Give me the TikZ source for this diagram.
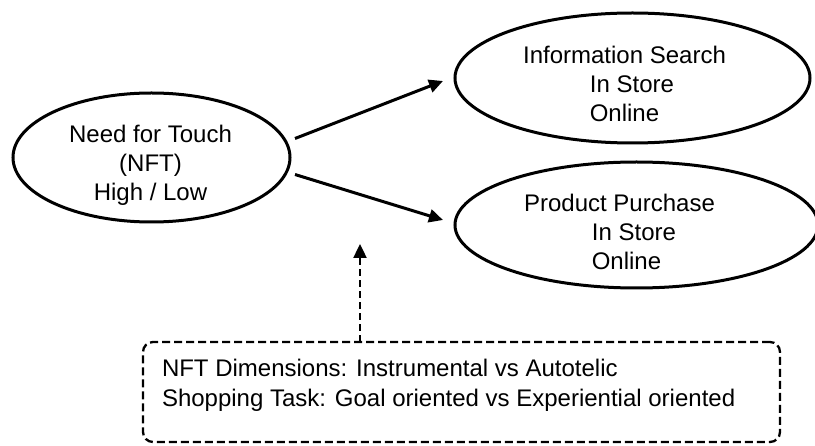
\documentclass[tikz,border=0pt]{standalone}
\usepackage{fontspec}
\setmainfont{Liberation Sans}
\usetikzlibrary{shapes.geometric,arrows.meta}
\begin{document}
\begin{tikzpicture}[x=1pt,y=-1pt,
  oval/.style={ellipse,draw=black,line width=3pt,inner sep=0pt,outer sep=0pt},
  lbl/.style={align=center,inner sep=0pt,outer sep=0pt,font=\fontsize{24}{29}\selectfont},
  boxlbl/.style={align=left,inner sep=0pt,outer sep=0pt,font=\fontsize{24}{30}\selectfont},
  flow/.style={line width=3pt,-{Triangle[length=14pt,width=13pt]}},
  hintarrow/.style={line width=2.4pt,dash pattern=on 7pt off 4pt,-{Triangle[length=14pt,width=13pt]}},
  dimbox/.style={draw=black,line width=2.3pt,dash pattern=on 8pt off 4pt,rounded corners=10pt,inner sep=0pt,outer sep=0pt}]
\useasboundingbox (0,0) rectangle (815,446);

% the three ovals
\node (need) [oval,minimum width=277pt,minimum height=129pt] at (151.5,157.5) {};
\node (info) [oval,minimum width=355pt,minimum height=130pt] at (632.5,78) {};
\node (buy)  [oval,minimum width=363pt,minimum height=126pt] at (636.5,225) {};

% their texts
\node (needText) [lbl] at ([xshift=-1pt,yshift=-8pt]need.center)
  {Need for Touch\\(NFT)\\High / Low};
\node (infoText) [lbl] at ([xshift=-8pt,yshift=-6pt]info.center)
  {Information Search\\\hspace*{15pt}In Store\\Online};
\node (buyText) [lbl] at ([xshift=-17pt,yshift=-7pt]buy.center)
  {Product Purchase\\\hspace*{29pt}In Store\\\hspace*{14pt}Online};

% moderators box
\node (dims) [dimbox,minimum width=637pt,minimum height=100pt] at (461.5,392) {};
\node (dimsText) [boxlbl,anchor=north west] at ([shift={(19,17)}]dims.north west)
  {NFT Dimensions: Instrumental vs Autotelic\\Shopping Task: Goal oriented vs Experiential oriented};

% connectors
\draw[flow] ([shift={(5,-19)}]need.east) -- ([shift={(-12,3)}]info.west);
\draw[flow] ([shift={(5,17)}]need.east) -- ([shift={(-12,-5)}]buy.west);
\coordinate (hintTip) at (360,244);
\draw[hintarrow] (dims.north -| hintTip) -- (hintTip);
\end{tikzpicture}
\end{document}
